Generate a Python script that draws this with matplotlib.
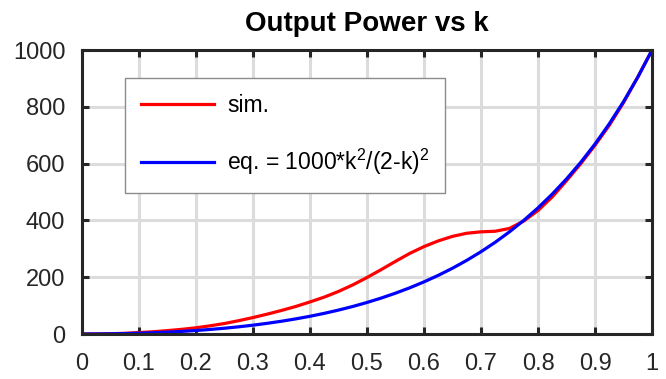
import numpy as np
import matplotlib
matplotlib.use("Agg")
import matplotlib.pyplot as plt

plt.rcParams['font.family'] = ['Liberation Sans', 'DejaVu Sans']
plt.rcParams['mathtext.fontset'] = 'custom'
plt.rcParams['mathtext.rm'] = 'Liberation Sans'
plt.rcParams['mathtext.it'] = 'Liberation Sans'

# simulated output power
k_sim = [0, 0.025, 0.05, 0.075, 0.1, 0.125, 0.15, 0.175, 0.2, 0.225, 0.25, 0.275,
         0.3, 0.325, 0.35, 0.375, 0.4, 0.425, 0.45, 0.475, 0.5, 0.525, 0.55, 0.575,
         0.6, 0.625, 0.65, 0.675, 0.7, 0.725, 0.75, 0.775, 0.8, 0.825, 0.85, 0.875,
         0.9, 0.925, 0.95, 0.975, 1.0]
p_sim = [0, 0.3, 1, 2.5, 5, 8, 12, 16.5, 22, 29, 37, 47,
         58, 70, 83, 97, 113, 130, 150, 173, 199, 227, 256, 284,
         308, 328, 344, 355, 360, 362, 372, 398, 435, 483, 540, 600,
         665, 735, 815, 905, 1000]

# equation curve, 1000*k^2/(2-k)^2
k_eq = [0, 0.025, 0.05, 0.075, 0.1, 0.125, 0.15, 0.175, 0.2, 0.225, 0.25, 0.275,
        0.3, 0.325, 0.35, 0.375, 0.4, 0.425, 0.45, 0.475, 0.5, 0.525, 0.55, 0.575,
        0.6, 0.625, 0.65, 0.675, 0.7, 0.725, 0.75, 0.775, 0.8, 0.825, 0.85, 0.875,
        0.9, 0.925, 0.95, 0.975, 1.0]
p_eq = [0, 0.2, 0.7, 1.5, 2.8, 4.4, 6.6, 9.2, 12.3, 16.1, 20.4, 25.4,
        31.1, 37.7, 45.0, 53.3, 62.5, 72.8, 84.3, 97.0, 111.1, 126.7, 143.9, 162.8,
        183.7, 206.6, 231.8, 259.5, 289.9, 323.3, 360.0, 400.3, 444.4, 493.0, 546.3, 604.9,
        669.4, 740.4, 818.6, 904.8, 1000]

xticks = [0, 0.1, 0.2, 0.3, 0.4, 0.5, 0.6, 0.7, 0.8, 0.9, 1]
xtick_labels = ['0', '0.1', '0.2', '0.3', '0.4', '0.5', '0.6', '0.7', '0.8', '0.9', '1']
yticks = [0, 200, 400, 600, 800, 1000]

fig = plt.figure(figsize=(6.66, 3.79), dpi=100)
ax = fig.add_axes([0.1231, 0.1187, 0.8559, 0.749])

ax.plot(k_sim, p_sim, color='#ff0000', lw=2.3, label='sim.')
ax.plot(k_eq, p_eq, color='#0000ff', lw=2.3, label=r'eq. = 1000*k$^{2}$/(2-k)$^{2}$')

ax.set_xlim(0, 1)
ax.set_ylim(0, 1000)
ax.set_xticks(xticks)
ax.set_xticklabels(xtick_labels)
ax.set_yticks(yticks)
ax.grid(True, color='#dcdcdc', lw=2.2)
ax.set_axisbelow(True)
ax.tick_params(direction='in', length=5, width=2.2, top=True, right=True,
               labelsize=17, colors='#262626', labelcolor='#262626')
ax.tick_params(axis='x', pad=14)
ax.tick_params(axis='y', pad=12)
for s in ax.spines.values():
    s.set_linewidth(2.2)
    s.set_color('#262626')

ax.set_title('Output Power vs k', fontsize=20, fontweight='bold', pad=14)

leg = ax.legend(loc='upper left', bbox_to_anchor=(0.0754, 0.901), borderaxespad=0,
                fontsize=16.5, handlelength=3.2, handletextpad=0.55,
                labelspacing=1.3, borderpad=0.7,
                fancybox=False, framealpha=1, edgecolor='#8c8c8c')
leg.get_frame().set_linewidth(1.0)

fig.savefig('out.png', dpi=100)
